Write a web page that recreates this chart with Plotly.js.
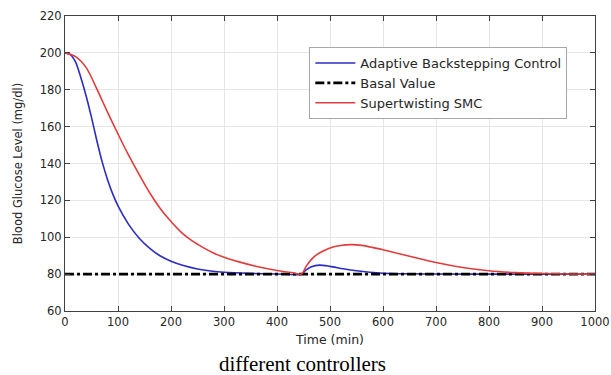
<!DOCTYPE html>
<html>
<head>
<meta charset="utf-8">
<script src="https://cdn.plot.ly/plotly-3.0.1.min.js"></script>
<style>
html,body{margin:0;padding:0;background:#fff;}
#chart{width:611px;height:375px;}
</style>
</head>
<body>
<div id="chart"></div>
<script>
// Adaptive Backstepping Control (time in min, glucose in mg/dl)
const tBlue = [0,10,20,30,40,50,60,70,80,90,100,120,140,160,180,200,225,250,275,300,350,400,446,455,465,480,500,525,550,575,600,650,700,800,1000];
const blueVals = [200,199,195,186.5,176.5,165,152.5,141,131.5,123.5,117,107,99.5,94,89.8,87,84.5,82.8,81.7,81,80.4,80.1,80,82.3,84,84.9,84.2,82.9,81.8,81,80.5,80.2,80.05,80,80];

// Supertwisting SMC
const tRed = [0,20,40,60,80,100,120,140,160,180,200,220,240,260,280,300,330,360,400,430,446,455,465,475,490,500,520,540,560,580,600,650,700,750,800,850,900,950,1000];
const redVals = [200,198,192,180.5,168,156,144.5,134,124,115.5,108.5,102.5,98,94.5,91.5,89.2,86.5,84.3,82,80.7,80,84.2,88,90.6,93,94.2,95.5,96,95.6,94.5,93.2,89.7,86.3,83.6,81.8,80.8,80.3,80.1,80];

// Basal value
const tBasal = [0,1000];
const basalVals = [80,80];

const names = ["Adaptive Backstepping Control","Basal Value","Supertwisting SMC"];
const xTicks = [0,100,200,300,400,500,600,700,800,900,1000];
const yTicks = [60,80,100,120,140,160,180,200,220];

const FONT = 'DejaVu Sans, Liberation Sans, Arial, sans-serif';

const traces = [
  {x:tBlue, y:blueVals, name:names[0], type:'scatter', mode:'lines',
   line:{color:'#2c2cc2', width:1.6, shape:'spline', smoothing:0.8}},
  {x:tBasal, y:basalVals, name:names[1], type:'scatter', mode:'lines',
   line:{color:'#000000', width:2.6, dash:'dashdot'}},
  {x:tRed, y:redVals, name:names[2], type:'scatter', mode:'lines',
   line:{color:'#e03c3c', width:1.6, shape:'spline', smoothing:0.8}}
];

const axisCommon = {
  showline:true, linecolor:'#404040', linewidth:1, mirror:'ticks',
  ticks:'inside', ticklen:5, tickcolor:'#404040',
  showgrid:true, gridcolor:'#e6e6e6', gridwidth:1, zeroline:false,
  tickfont:{family:FONT, size:11.5, color:'#262626'}
};

const layout = {
  width:611, height:375,
  margin:{l:65, r:16, t:16, b:64},
  paper_bgcolor:'#ffffff', plot_bgcolor:'#ffffff',
  showlegend:true,
  legend:{x:0.461, y:0.895, xanchor:'left', yanchor:'top',
    bgcolor:'#ffffff', bordercolor:'#a8a8a8', borderwidth:1,
    font:{family:FONT, size:13, color:'#262626'},
    tracegroupgap:0, itemwidth:40},
  xaxis:Object.assign({}, axisCommon, {range:[0,1000], tickvals:xTicks, ticktext:xTicks.map(String),
    title:{text:'Time (min)', standoff:7, font:{family:FONT, size:12.5, color:'#262626'}}}),
  yaxis:Object.assign({}, axisCommon, {range:[60,220], tickvals:yTicks, ticktext:yTicks.map(String),
    title:{text:'Blood Glucose Level (mg/dl)', standoff:14, font:{family:FONT, size:11.5, color:'#262626'}}}),
  annotations:[{
    text:'different controllers', xref:'paper', yref:'paper', x:0.448, y:-0.18,
    xanchor:'center', yanchor:'middle', showarrow:false,
    font:{family:'Liberation Serif, Times New Roman, serif', size:21, color:'#000000'}
  }]
};

Plotly.newPlot('chart', traces, layout, {displayModeBar:false, staticPlot:true});
</script>
</body>
</html>
